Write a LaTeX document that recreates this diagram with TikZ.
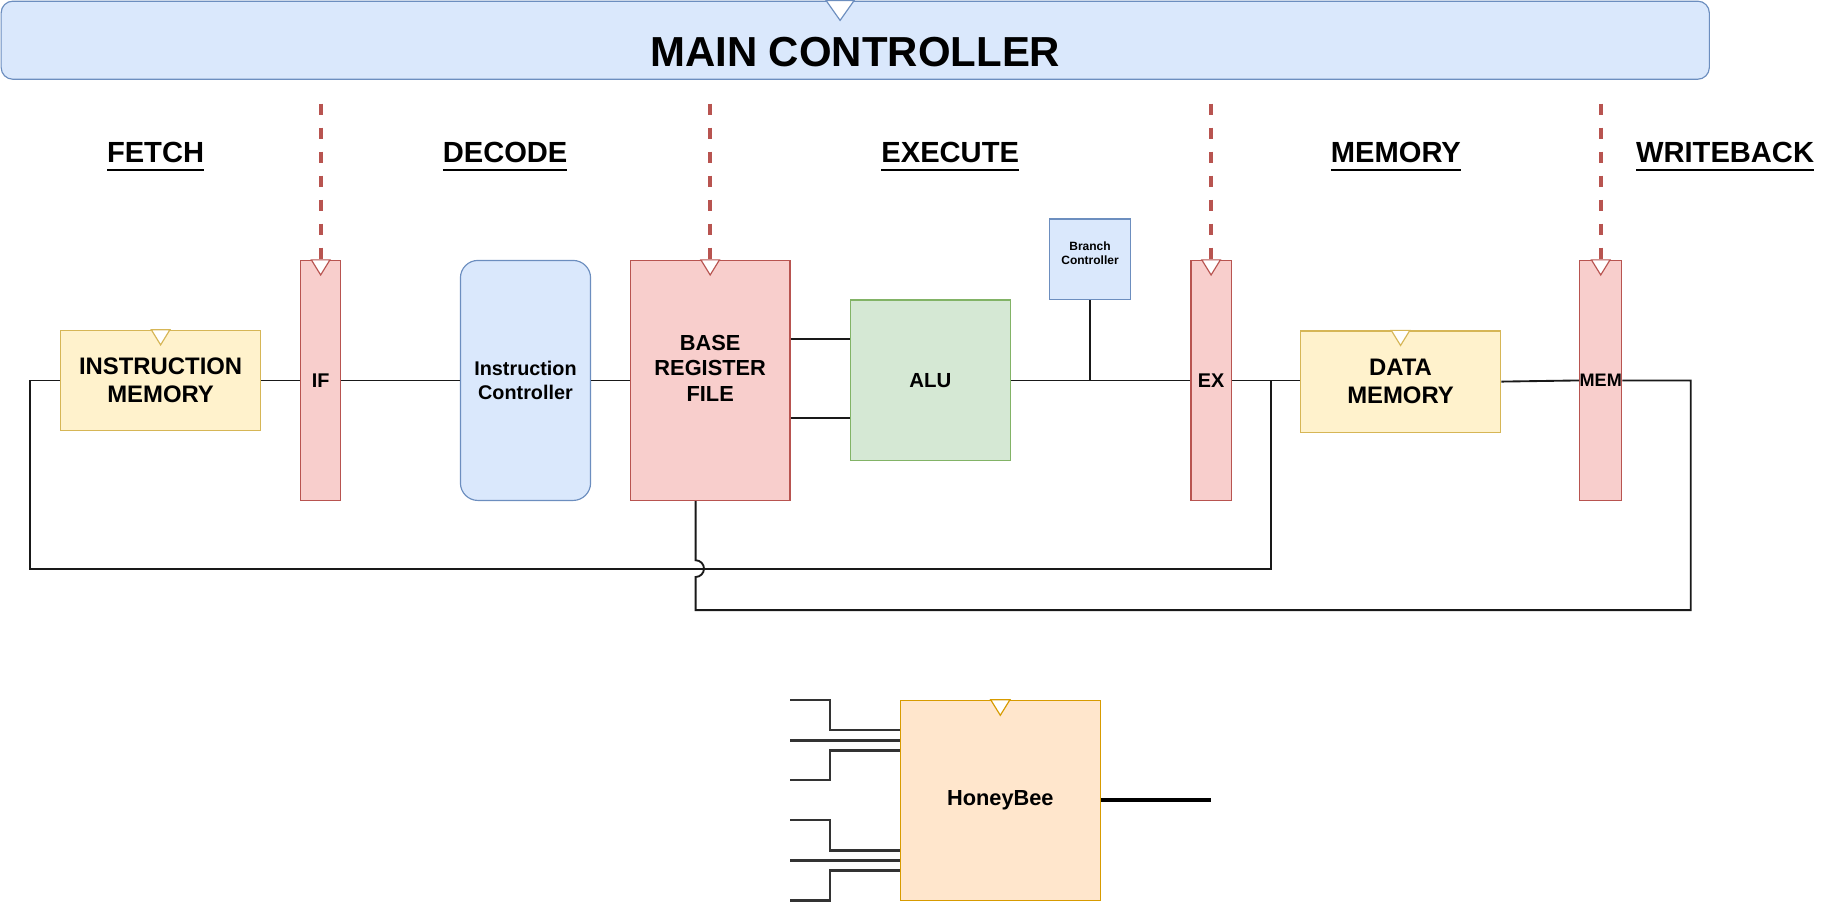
\documentclass[tikz,border=0pt]{standalone}
\usepackage{fontspec}
\setmainfont{Liberation Sans}
\usetikzlibrary{calc}

\definecolor{regfill}{HTML}{F8CECC}
\definecolor{regline}{HTML}{B85450}
\definecolor{memfill}{HTML}{FFF2CC}
\definecolor{memline}{HTML}{D6B656}
\definecolor{ctrlfill}{HTML}{DAE8FC}
\definecolor{ctrlline}{HTML}{6C8EBF}
\definecolor{alufill}{HTML}{D5E8D4}
\definecolor{aluline}{HTML}{82B366}
\definecolor{beefill}{HTML}{FFE6CC}
\definecolor{beeline}{HTML}{D79B00}

\newcommand{\titlefont}{\bfseries\fontsize{36}{40}\selectfont}
\newcommand{\stagefont}{\bfseries\fontsize{25}{30}\selectfont}
\newcommand{\memfont}{\bfseries\fontsize{20.5}{23.8}\selectfont}
\newcommand{\brffont}{\bfseries\fontsize{18.7}{22}\selectfont}
\newcommand{\icfont}{\bfseries\fontsize{17}{20.8}\selectfont}
\newcommand{\regfont}{\bfseries\fontsize{17}{20}\selectfont}
\newcommand{\bcfont}{\bfseries\fontsize{10.3}{12}\selectfont}

% underlined stage title
\newcommand{\stagetext}[1]{\setbox0\hbox{#1}\rlap{\rule[-7.25pt]{\wd0}{1.5pt}}\box0}
% clock mark on top of a box: position, width, height, colour
\newcommand{\clockmark}[4]{%
  \path[fill=white,draw=#4,line width=1pt] ($#1+(-#2/2,0)$) -- ($#1+(0,#3)$) -- ($#1+(#2/2,0)$) -- cycle;}

\begin{document}
\begin{tikzpicture}[
        x=1pt, y=-1pt,
        box/.style={draw, line width=1pt, inner sep=0pt, align=center},
        regbox/.style={box, fill=regfill, draw=regline, minimum width=34.5pt,
                       minimum height=206pt, font=\regfont},
        membox/.style={box, fill=memfill, draw=memline, minimum width=172pt,
                       minimum height=86pt, font=\memfont},
        ctrlbox/.style={box, fill=ctrlfill, draw=ctrlline},
        alubox/.style={box, fill=alufill, draw=aluline},
        beebox/.style={box, fill=beefill, draw=beeline},
        wire/.style={line width=1.6pt, black!90},
        ctlsig/.style={line width=3.2pt, regline, dash pattern=on 10pt off 10.6pt},
        pin/.style={line width=2.2pt, black!80},
    ]
    \useasboundingbox (0,0) rectangle (1568,776.7);

    % main controller
    \node[ctrlbox, rounded corners=10pt, minimum width=1466pt, minimum height=67pt]
        (mainctl) at (734,34.5) {};
    \node[anchor=base, font=\titlefont] (mainlabel) at (734,57) {MAIN CONTROLLER};

    % stage titles
    \foreach \name/\x/\txt in {fetch/133.5/FETCH, decode/433.5/DECODE,
            execute/815.5/EXECUTE, memory/1198/MEMORY, writeback/1480.5/WRITEBACK}
        \node[anchor=base, inner sep=0pt, font=\stagefont] (\name) at (\x,139.5) {\stagetext{\txt}};

    % pipeline
    \node[membox] (imem) at (137.85,326.5) {INSTRUCTION\\MEMORY};
    \node[regbox] (ifreg) at (275.2,326.5) {IF};
    \node[ctrlbox, rounded corners=15pt, minimum width=111.7pt, minimum height=206pt,
          font=\icfont] (ictl) at (451,326.5) {Instruction\\Controller};
    \node[regbox, minimum width=137pt,
          label={[name=brflabel, font=\brffont, align=center, yshift=10.5pt]center:BASE\\REGISTER\\FILE}]
        (brf) at (609.5,326.5) {};
    \node[alubox, minimum width=137pt, minimum height=138pt,
          font=\bfseries\fontsize{17.5}{20}\selectfont] (alu) at (798.5,326.5) {ALU};
    \node[ctrlbox, minimum width=69pt, minimum height=69pt,
          label={[name=bclabel, font=\bcfont, align=center, yshift=5.5pt]center:Branch\\Controller}]
        (bctl) at (935.5,222.5) {};
    \node[regbox] (exreg) at (1039.4,326.5) {EX};
    \node[membox, minimum height=87pt] (dmem) at (1202,327.5) {DATA\\MEMORY};
    \node[regbox, font=\bfseries\fontsize{15.5}{17}\selectfont] (memreg) at (1373.8,326.5) {MEM};

    \node[beebox, minimum width=171.4pt, minimum height=171.5pt,
          font=\bfseries\fontsize{18.7}{22}\selectfont] (bee) at (858.5,686.75) {HoneyBee};

    % clock marks
    \clockmark{([xshift=-13pt]mainctl.north)}{24}{17}{ctrlline}
    \clockmark{(imem.north)}{16}{13}{memline}
    \clockmark{(dmem.north)}{16}{13}{memline}
    \clockmark{(bee.north)}{16.6}{13.4}{beeline}
    \foreach \reg in {ifreg, brf, exreg, memreg}
        \clockmark{(\reg.north)}{16}{13}{regline};

    % control signals
    \foreach \reg in {ifreg, brf, exreg, memreg} {
        \coordinate (\reg-sig) at ([yshift=134pt]\reg.north);
        \draw[ctlsig] (\reg-sig) -- (\reg.north);
    }

    % datapath
    \draw[wire] (imem.east) -- (ifreg.west);
    \draw[wire] (ifreg.east) -- (ictl.west);
    \draw[wire] (ictl.east) -- (brf.west);
    \draw[wire] ([yshift=35.5pt]brf.east) -- ([yshift=35.5pt]brf.east -| alu.west);
    \draw[wire] ([yshift=-32.5pt]brf.east) -- ([yshift=-32.5pt]brf.east -| alu.west);
    \draw[wire] (alu.east) -- (exreg.west);
    \draw[wire] (bctl.south) -- (bctl.south |- alu.east);
    \draw[wire] (exreg.east) -- (exreg.east -| dmem.west);
    \draw[wire] (dmem.east) -- (memreg.west);

    % feedback paths
    \coordinate (exfwd) at (1091,326.5);
    \coordinate (exfwd-low) at (1091,488);
    \coordinate (imem-back) at (26,488);
    \draw[wire] (exfwd) -- (exfwd-low) -- (imem-back) |- (imem.west);

    \coordinate (memfwd-low) at (1451,523.6);
    \coordinate (brf-low) at (597,523.6);
    \coordinate (hop) at (597,495.2);
    \draw[wire] (memreg.east) -| (memfwd-low) -- (brf-low) -- (hop)
        arc[start angle=-90, end angle=90, radius=7.2pt] -- ([xshift=-12.5pt]brf.south);

    % honeybee pins
    \foreach \ya/\yb [count=\i] in {600.9/626.6, 635.5/635.5, 669.5/644,
                                    703.9/729.9, 738.5/738.5, 772.8/747} {
        \coordinate (pin\i) at (678.4,\ya);
        \coordinate (pinb\i) at (712.4,\yb);
        \draw[pin] (pin\i) -| (pinb\i) -- (pinb\i -| bee.west);
    }
    \coordinate (beeout) at (1039,686.75);
    \draw[line width=3.4pt] (bee.east) -- (beeout);

\end{tikzpicture}
\end{document}
